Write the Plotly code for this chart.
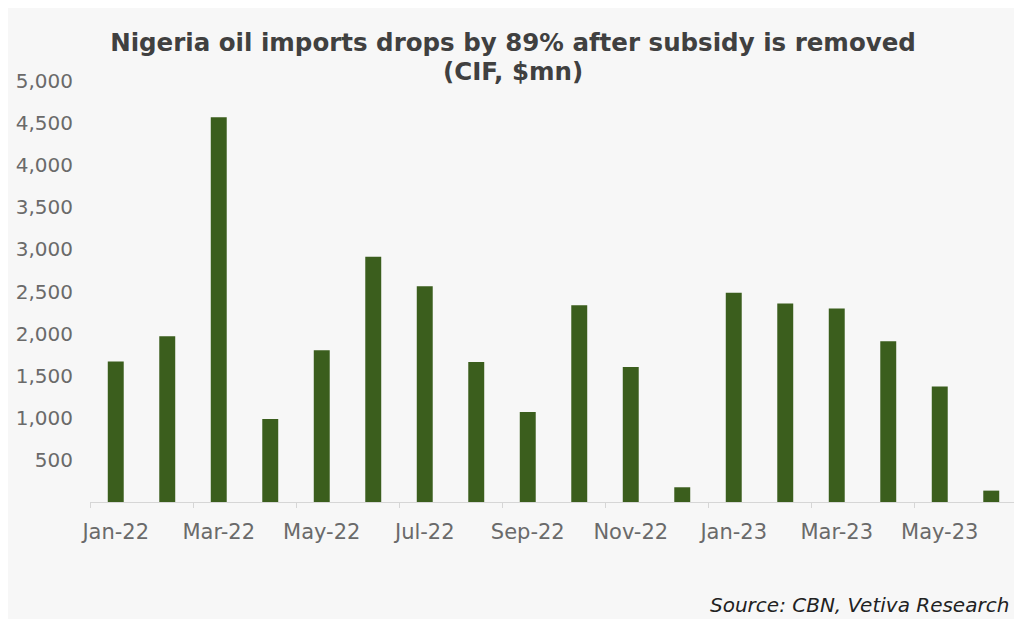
import plotly.graph_objects as go

months = ["Jan-22", "Feb-22", "Mar-22", "Apr-22", "May-22", "Jun-22", "Jul-22", "Aug-22", "Sep-22",
          "Oct-22", "Nov-22", "Dec-22", "Jan-23", "Feb-23", "Mar-23", "Apr-23", "May-23", "Jun-23"]
imports_cif = [1670, 1968, 4568, 985, 1801, 2913, 2563, 1663, 1068,
               2337, 1603, 175, 2484, 2357, 2298, 1908, 1373, 135]
y_ticks = [500, 1000, 1500, 2000, 2500, 3000, 3500, 4000, 4500, 5000]

title_line1 = "Nigeria oil imports drops by 89% after subsidy is removed"
title_line2 = "(CIF, $mn)"
source_text = "Source: CBN, Vetiva Research"

BG = "#f7f7f7"
BAR = "#3b5e1d"
TICK = "#6a6a6a"
TITLE = "#404040"

W, H = 1014, 611
L, R, T, B = 82, 5, 73, 117
PW, PH = W - L - R, H - T - B

fig = go.Figure(go.Bar(x=months, y=imports_cif, marker=dict(color=BAR, line=dict(width=0))))

fig.update_layout(
    width=W, height=H,
    paper_bgcolor=BG, plot_bgcolor=BG,
    margin=dict(l=L, r=R, t=T, b=B),
    bargap=0.69,
    showlegend=False,
    font=dict(family="DejaVu Sans", color=TICK, size=20),
    title=dict(text="<b>" + title_line1 + "</b>", x=505 / W, xanchor="center", xref="container",
               y=1 - 34 / H, yanchor="middle", yref="container",
               font=dict(family="DejaVu Sans", size=24.5, color=TITLE)),
    annotations=[
        dict(text="<b>" + title_line2 + "</b>", xref="paper", yref="paper",
             x=(505 - L) / PW, y=(H - B - 64) / PH, xanchor="center", yanchor="middle",
             showarrow=False, font=dict(family="DejaVu Sans", size=24.5, color=TITLE)),
        dict(text="<i>" + source_text + "</i>", xref="paper", yref="paper",
             x=(700 - L) / PW, y=(H - B - 597) / PH, xanchor="left", yanchor="middle",
             showarrow=False, font=dict(family="DejaVu Sans", size=20, color="#222222")),
    ],
)

fig.update_xaxes(
    type="category", tickmode="linear", dtick=2, tick0=0, tickangle=0,
    tickson="boundaries", ticks="outside", ticklen=5, tickcolor="#d6d6d6",
    showline=True, linecolor="#d6d6d6", linewidth=1,
    showgrid=False, ticklabelstandoff=11,
    tickfont=dict(size=21, color=TICK),
)
fig.update_yaxes(
    range=[0, 5000], tickvals=y_ticks, tickformat=",",
    showgrid=False, zeroline=False, showline=False, ticks="",
    ticklabelstandoff=16,
    tickfont=dict(size=20, color=TICK),
)

fig.write_html("out.html")
